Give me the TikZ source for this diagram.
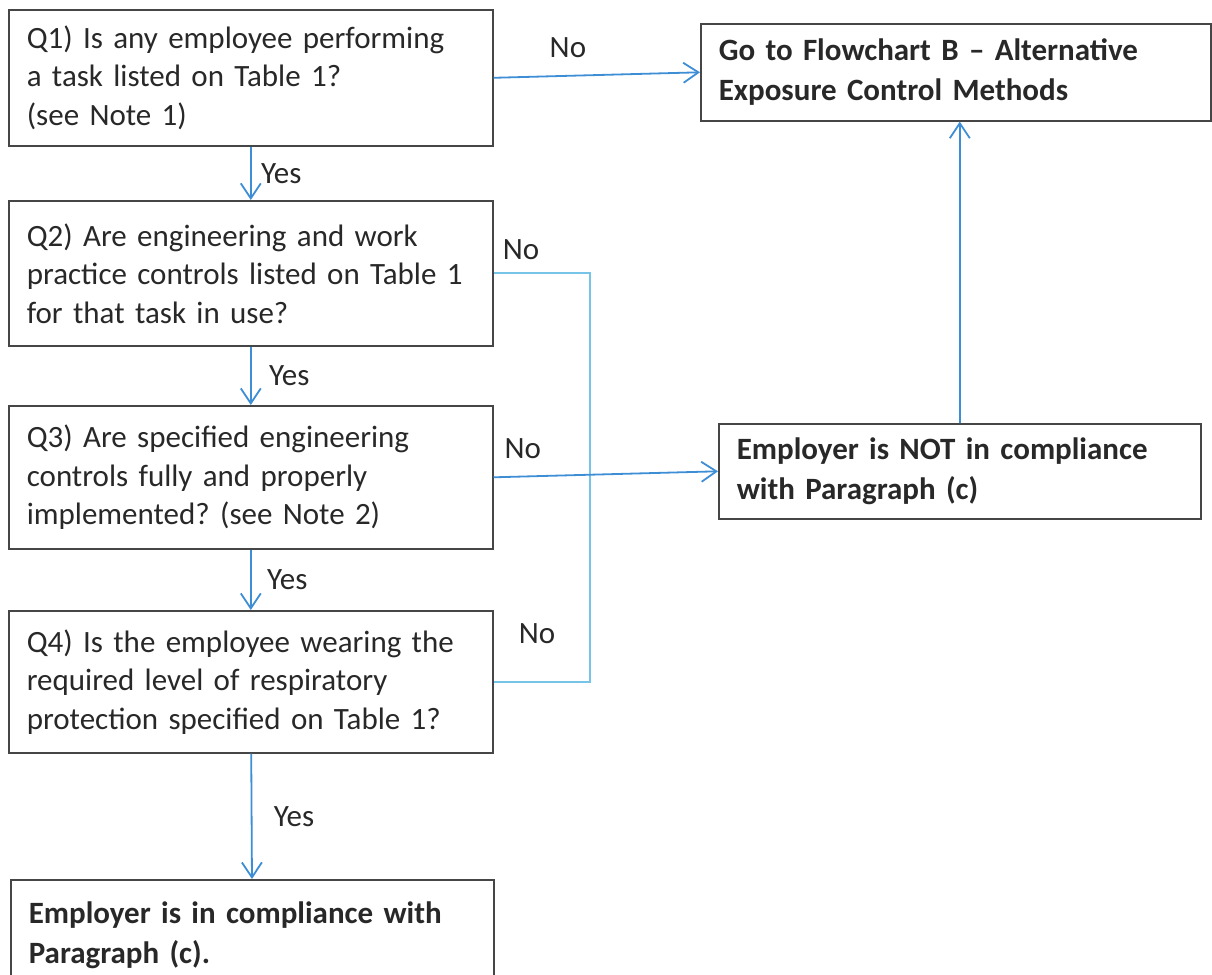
\documentclass[tikz,border=0pt]{standalone}
\usepackage{fontspec}
\setmainfont{Carlito}
\usepackage{tikz}
\usetikzlibrary{arrows.meta}
\definecolor{arrowblue}{RGB}{62,142,214}
\definecolor{lineblue}{RGB}{118,196,232}
\definecolor{boxgray}{RGB}{70,70,70}
\definecolor{textgray}{RGB}{40,40,40}
\frenchspacing

\begin{document}
\begin{tikzpicture}[x=1pt, y=-1pt, >={Straight Barb[length=15pt,width=20pt]}]
\tikzset{every node/.style={font=\fontsize{31}{38.5}\selectfont, text=textgray},
  qbox/.style={draw=boxgray, line width=1.6pt, anchor=north west, align=left, inner xsep=18pt, inner ysep=0pt},
  ansbox/.style={qbox, font=\fontsize{31}{40}\selectfont\bfseries},
  flow/.style={draw=arrowblue, line width=1.8pt, ->},
  bus/.style={draw=lineblue, line width=1.8pt}}
\useasboundingbox (0,0) rectangle (1212,974);

\node[qbox, text width=448pt, minimum height=136pt] (q1) at (8,9) {Q1) Is any employee performing\\a task listed on Table 1?\\(see Note 1)};
\node[qbox, text width=448pt, minimum height=145pt] (q2) at (8,200) {Q2) Are engineering and work\\practice controls listed on Table 1\\for that task in use?};
\node[qbox, text width=448pt, minimum height=143pt] (q3) at (8,405) {Q3) Are specified engineering\\controls fully and properly\\implemented? (see Note 2)};
\node[qbox, text width=448pt, minimum height=142pt] (q4) at (8,610) {Q4) Is the employee wearing the\\required level of respiratory\\protection specified on Table 1?};
\node[ansbox, text width=447pt, minimum height=110pt] (ok) at (10,879) {Employer is in compliance with\\Paragraph (c).};
\node[ansbox, text width=474pt, minimum height=97pt] (flowb) at (700,23) {Go to Flowchart B -- Alternative\\Exposure Control Methods};
\node[ansbox, text width=446pt, minimum height=95pt] (notok) at (718,423) {Employer is NOT in compliance\\with Paragraph (c)};

\draw[flow] (q1.east) -- (flowb.west) node[pos=0.36, above=14pt] (no1) {No};
\draw[flow] (q1) -- (q2) node[midway, right=6pt] (yes1) {Yes};
\draw[flow] (q2) -- (q3) node[midway, right=14pt] (yes2) {Yes};
\draw[flow] (q3) -- (q4) node[midway, right=12pt] (yes3) {Yes};
\draw[flow] (q4) -- (ok) node[midway, right=18pt] (yes4) {Yes};
\draw[bus] (q2.east) -- ++(96,0) |- (q4.east);
\node (no2) at (521,250) {No};
\node (no4) at (537,634) {No};
\draw[flow] (q3.east) -- (notok.west) node[pos=0.13, above=14pt] (no3) {No};
\draw[flow] (notok.north) -- (notok.north |- flowb.south);
\end{tikzpicture}
\end{document}
